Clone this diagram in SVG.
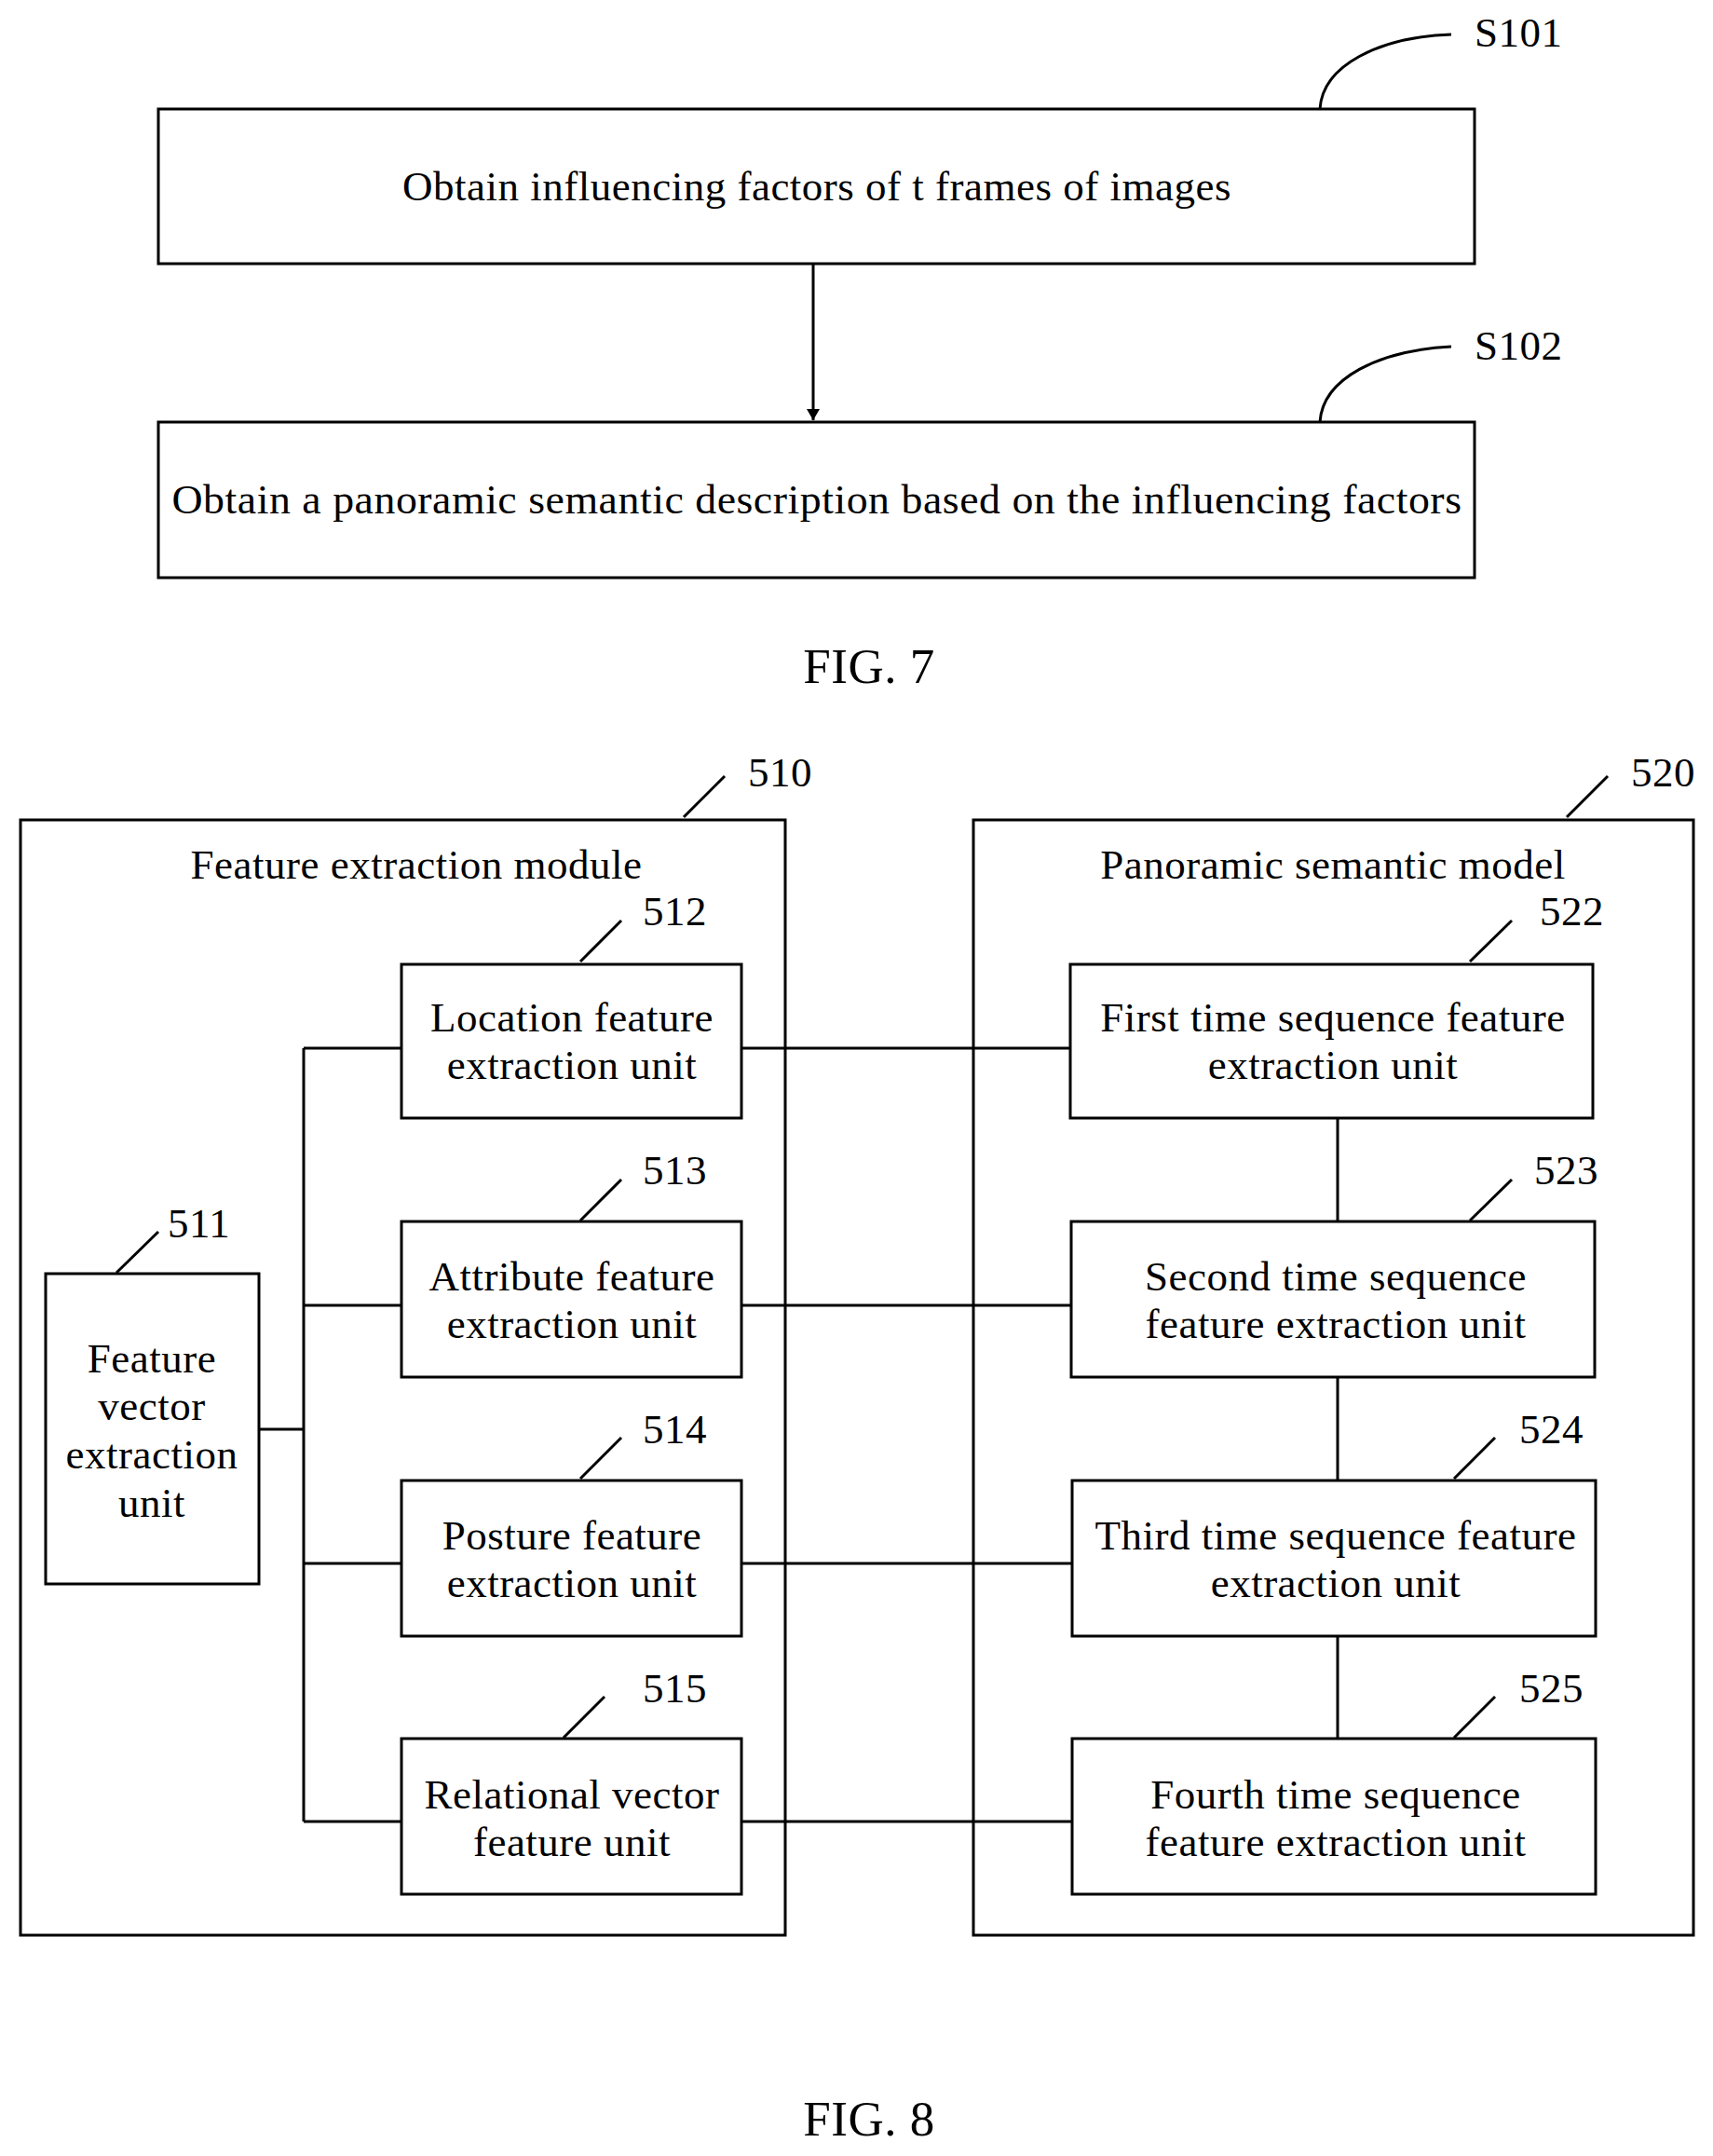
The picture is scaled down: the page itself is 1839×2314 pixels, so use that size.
<svg xmlns="http://www.w3.org/2000/svg" width="1839" height="2314" viewBox="0 0 1839 2314">
<style>
text{font-family:"Liberation Serif","Times New Roman",serif;font-size:45px;letter-spacing:0.5px;fill:#000;text-anchor:middle}
.b{fill:#fff;stroke:#000;stroke-width:3}
.o{fill:none;stroke:#000;stroke-width:3}
.l{fill:none;stroke:#000;stroke-width:3}
.lab{text-anchor:start}
.fig{font-size:53px}
</style>
<defs><marker id="a" markerWidth="12" markerHeight="14" refX="12" refY="7" orient="auto" markerUnits="userSpaceOnUse"><path d="M0,0L12,7L0,14z" fill="#000"/></marker></defs>
<rect width="1839" height="2314" fill="#fff"/>
<g id="S101"><rect class="b" x="170" y="117" width="1413" height="166"/><text x="877" y="215">Obtain influencing factors of t frames of images</text><text class="lab" x="1583" y="50">S101</text></g>
<g id="S102"><rect class="b" x="170" y="453" width="1413" height="167"/><text x="877" y="551" textLength="1385" lengthAdjust="spacingAndGlyphs">Obtain a panoramic semantic description based on the influencing factors</text><text class="lab" x="1583" y="386">S102</text></g>
<text class="fig" x="933" y="733">FIG. 7</text>
<g id="m510"><rect class="o" x="22" y="880" width="821" height="1197"/><text x="447" y="943">Feature extraction module</text><text class="lab" x="803" y="844">510</text></g>
<g id="m520"><rect class="o" x="1045" y="880" width="773" height="1197"/><text x="1431" y="943">Panoramic semantic model</text><text class="lab" x="1751" y="844">520</text></g>
<g id="n511"><rect class="b" x="49" y="1367" width="229" height="333"/><text x="163" y="1473">Feature</text><text x="163" y="1524">vector</text><text x="163" y="1576">extraction</text><text x="163" y="1628">unit</text><text class="lab" x="180" y="1328">511</text></g>
<g id="n512"><rect class="b" x="431" y="1035" width="365" height="165"/><text x="614" y="1107">Location feature</text><text x="614" y="1158">extraction unit</text><text class="lab" x="690" y="993">512</text></g>
<g id="n513"><rect class="b" x="431" y="1311" width="365" height="167"/><text x="614" y="1385">Attribute feature</text><text x="614" y="1436">extraction unit</text><text class="lab" x="690" y="1271">513</text></g>
<g id="n514"><rect class="b" x="431" y="1589" width="365" height="167"/><text x="614" y="1663">Posture feature</text><text x="614" y="1714">extraction unit</text><text class="lab" x="690" y="1549">514</text></g>
<g id="n515"><rect class="b" x="431" y="1866" width="365" height="167"/><text x="614" y="1941">Relational vector</text><text x="614" y="1992">feature unit</text><text class="lab" x="690" y="1827">515</text></g>
<g id="n522"><rect class="b" x="1149" y="1035" width="561" height="165"/><text x="1431" y="1107">First time sequence feature</text><text x="1431" y="1158">extraction unit</text><text class="lab" x="1653" y="993">522</text></g>
<g id="n523"><rect class="b" x="1150" y="1311" width="562" height="167"/><text x="1434" y="1385">Second time sequence</text><text x="1434" y="1436">feature extraction unit</text><text class="lab" x="1647" y="1271">523</text></g>
<g id="n524"><rect class="b" x="1151" y="1589" width="562" height="167"/><text x="1434" y="1663">Third time sequence feature</text><text x="1434" y="1714">extraction unit</text><text class="lab" x="1631" y="1549">524</text></g>
<g id="n525"><rect class="b" x="1151" y="1866" width="562" height="167"/><text x="1434" y="1941">Fourth time sequence</text><text x="1434" y="1992">feature extraction unit</text><text class="lab" x="1631" y="1827">525</text></g>
<text class="fig" x="933" y="2292">FIG. 8</text>
<g id="connectors">
<line class="l" x1="873" y1="283" x2="873" y2="451" stroke-width="2" marker-end="url(#a)"/>
<path class="l" stroke-width="2" d="M1417,117 C1420,70 1480,40 1558,37"/>
<path class="l" stroke-width="2" d="M1417,453 C1420,406 1480,376 1558,372"/>
<line class="l" x1="734" y1="877" x2="778" y2="833" stroke-width="2"/>
<line class="l" x1="1682" y1="877" x2="1726" y2="833" stroke-width="2"/>
<line class="l" x1="125" y1="1366" x2="170" y2="1322" stroke-width="2"/>
<line class="l" x1="623" y1="1032" x2="667" y2="988" stroke-width="2"/>
<line class="l" x1="623" y1="1310" x2="667" y2="1266" stroke-width="2"/>
<line class="l" x1="623" y1="1587" x2="667" y2="1543" stroke-width="2"/>
<line class="l" x1="605" y1="1865" x2="649" y2="1821" stroke-width="2"/>
<line class="l" x1="1578" y1="1032" x2="1623" y2="988" stroke-width="2"/>
<line class="l" x1="1578" y1="1310" x2="1623" y2="1266" stroke-width="2"/>
<line class="l" x1="1561" y1="1587" x2="1605" y2="1543" stroke-width="2"/>
<line class="l" x1="1561" y1="1865" x2="1605" y2="1821" stroke-width="2"/>
<line class="l" x1="278" y1="1534" x2="326" y2="1534"/>
<line class="l" x1="326" y1="1125" x2="326" y2="1955"/>
<line class="l" x1="326" y1="1125" x2="431" y2="1125"/>
<line class="l" x1="326" y1="1401" x2="431" y2="1401"/>
<line class="l" x1="326" y1="1678" x2="431" y2="1678"/>
<line class="l" x1="326" y1="1955" x2="431" y2="1955"/>
<line class="l" x1="796" y1="1125" x2="1149" y2="1125"/>
<line class="l" x1="796" y1="1401" x2="1150" y2="1401"/>
<line class="l" x1="796" y1="1678" x2="1151" y2="1678"/>
<line class="l" x1="796" y1="1955" x2="1151" y2="1955"/>
<line class="l" x1="1436" y1="1200" x2="1436" y2="1311"/>
<line class="l" x1="1436" y1="1478" x2="1436" y2="1589"/>
<line class="l" x1="1436" y1="1756" x2="1436" y2="1866"/>
</g>
</svg>
